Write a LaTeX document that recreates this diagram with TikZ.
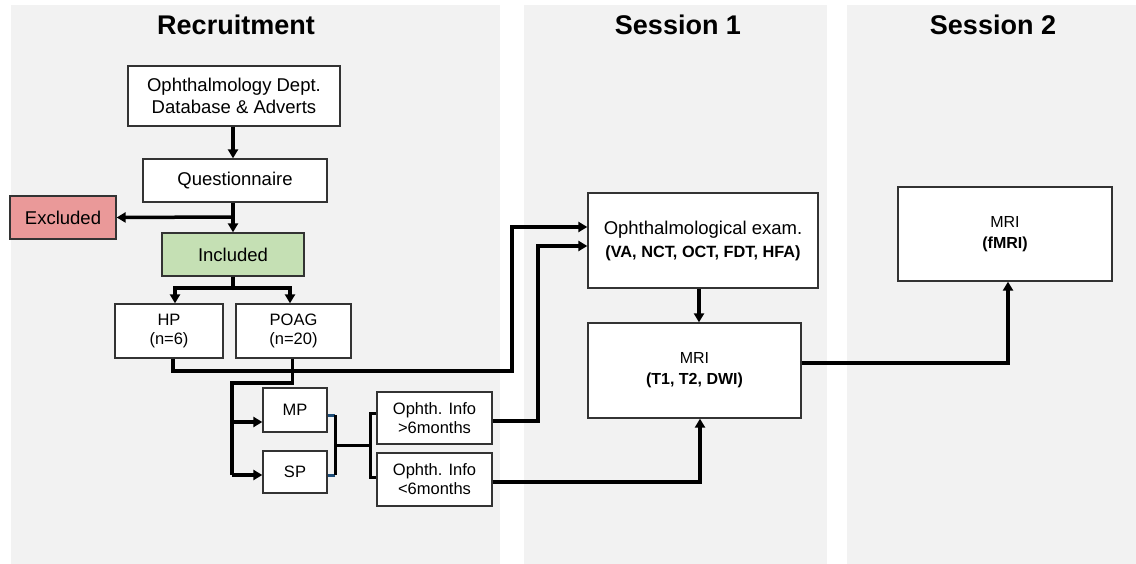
\documentclass[tikz,border=0pt]{standalone}
\usepackage{fontspec}
\setmainfont{Liberation Sans}
\usetikzlibrary{arrows.meta}
\definecolor{panelgray}{HTML}{F2F2F2}
\definecolor{exclred}{HTML}{EA9999}
\definecolor{inclgreen}{HTML}{C5E0B4}
\definecolor{stubblue}{HTML}{1F4E79}
\begin{document}
\begin{tikzpicture}[x=1pt,y=-1pt,
  box/.style={draw=black!80, fill=white, line width=1.3pt, align=center, inner sep=0pt},
  conn/.style={line width=3.5pt, line join=miter},
  thinconn/.style={line width=3pt, line join=miter},
  stubline/.style={line width=3pt, draw=stubblue},
  arr/.style={conn, -{Triangle[length=9pt,width=10pt]}},
  paneltitle/.style={font=\fontsize{27}{30}\selectfont\bfseries},
  big/.style={font=\fontsize{18.5}{21.5}\selectfont},
  mid/.style={font=\fontsize{16.5}{19}\selectfont},
  sml/.style={font=\fontsize{16}{21}\selectfont}]
\useasboundingbox (0,0) rectangle (1136,564);
% panels
\fill[panelgray] (11,5) rectangle (500,564);
\fill[panelgray] (524,5) rectangle (827,564);
\fill[panelgray] (847,5) rectangle (1136,564);
% titles
\node[paneltitle] (t1) at (236,25) {Recruitment};
\node[paneltitle] (t2) at (678,25) {Session 1};
\node[paneltitle] (t3) at (993,25) {Session 2};
% boxes
\node[box,big,minimum width=212pt,minimum height=60pt] (dept) at (234,96) {Ophthalmology Dept.\\Database \& Adverts};
\node[box,big,minimum width=184pt,minimum height=43pt] (quest) at (235,180.5) {Questionnaire};
\node[box,big,fill=exclred,minimum width=106pt,minimum height=43pt] (excl) at (63,217.5) {Excluded};
\node[box,big,fill=inclgreen,minimum width=142pt,minimum height=43pt] (incl) at (233,254.5) {Included};
\node[box,mid,minimum width=108pt,minimum height=54pt] (hp) at (169,331) {HP\\(n=6)};
\node[box,mid,minimum width=115pt,minimum height=54pt] (poag) at (293.5,331) {POAG\\(n=20)};
\node[box,mid,minimum width=64pt,minimum height=44pt] (mp) at (295,410) {MP};
\node[box,mid,minimum width=64pt,minimum height=42pt] (sp) at (295,472) {SP};
\node[box,mid,minimum width=115pt,minimum height=52pt] (infog) at (434.5,418) {Ophth. Info\\>6months};
\node[box,mid,minimum width=115pt,minimum height=53pt] (infol) at (434.5,479.5) {Ophth. Info\\<6months};
\node[box,font=\fontsize{18.5}{23}\selectfont,minimum width=230pt,minimum height=95pt] (exam) at (703,240.5) {Ophthalmological exam.\\{\fontsize{16.3}{19}\selectfont\bfseries (VA, NCT, OCT, FDT, HFA)}};
\node[box,sml,minimum width=213pt,minimum height=95pt] (mria) at (694.5,370.5) {MRI\\\textbf{(T1, T2, DWI)}};
\node[box,sml,minimum width=214pt,minimum height=94pt] (mrib) at (1005,234) {MRI\\\textbf{(fMRI)}};
% junction coordinates
\coordinate (qsplit) at (233,217);
\coordinate (isplit) at (233,288);
\coordinate (hpjoin) at (512,371);
\coordinate (pdrop) at (232,383);
\coordinate (j1) at (335,445);
\coordinate (j2) at (370,445);
\coordinate (gup) at (538,246);
\coordinate (mpin) at ([yshift=-12pt]mp.west);
\coordinate (spin) at ([yshift=-3pt]sp.west);
\coordinate (mpout) at ([yshift=-5pt]mp.east);
\coordinate (spout) at ([yshift=-3pt]sp.east);
\coordinate (gin) at ([yshift=5pt]infog.west);
\coordinate (lin) at ([yshift=2.5pt]infol.west);
\coordinate (gout) at ([yshift=-3pt]infog.east);
\coordinate (lout) at ([yshift=-2.5pt]infol.east);
% connectors
\draw[arr] (dept.south -| qsplit) -- (quest.north -| qsplit);
\draw[arr] (quest.south -| qsplit) -- (incl.north -| qsplit);
\draw[arr] (qsplit) -- (excl.east);
\draw[conn] (incl.south -| isplit) -- (isplit);
\draw[arr] (isplit) -| ([xshift=6pt]hp.north);
\draw[arr] (isplit) -| ([xshift=-3.5pt]poag.north);
\draw[arr] ([xshift=4pt]hp.south) |- (hpjoin) |- ([yshift=13.5pt]exam.west);
\draw[conn] ([xshift=-1pt]poag.south) |- (pdrop) -- (pdrop |- spin);
\draw[arr] (pdrop |- spin) -- (spin);
\draw[arr] (pdrop |- mpin) -- (mpin);
\draw[stubline] (mpout) -- (mpout -| j1);
\draw[stubline] (spout) -- (spout -| j1);
\draw[thinconn] (mpout -| j1) -- (spout -| j1);
\draw[thinconn] (j1) -- (j2);
\draw[thinconn] (gin) -| (j2) |- (lin);
\draw[arr] (gout) -| (gup) -- (gup -| exam.west);
\draw[arr] (lout) -| ([xshift=5.5pt]mria.south);
\draw[arr] ([xshift=-4pt]exam.south) -- ([xshift=4.5pt]mria.north);
\draw[arr] ([yshift=7.5pt]mria.east) -| ([xshift=3pt]mrib.south);
\end{tikzpicture}
\end{document}
